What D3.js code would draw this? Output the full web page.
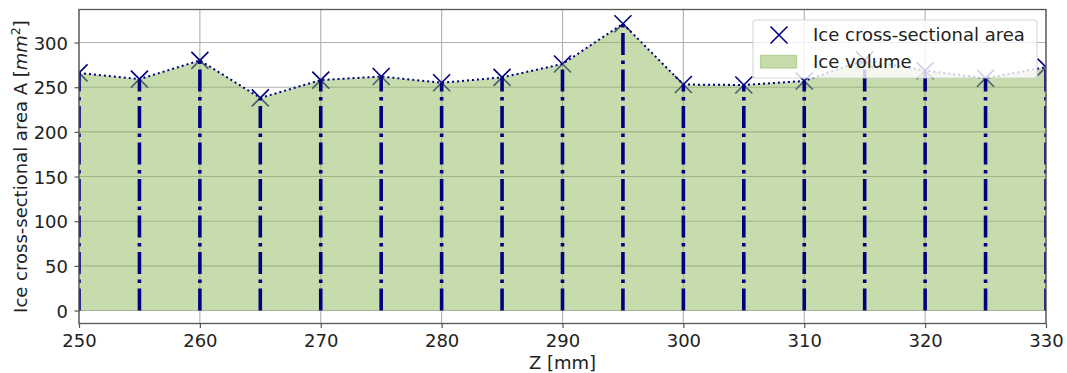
<!DOCTYPE html>
<html>
<head>
<meta charset="utf-8">
<script src="https://cdn.jsdelivr.net/npm/d3@7"></script>
<style>
  body { margin: 0; background: #fff; }
  svg { display: block; }
  text { font-family: "DejaVu Sans", sans-serif; }
</style>
</head>
<body>
<svg id="chart" width="1067" height="373"></svg>
<script>
// Axial positions along the sample (mm)
const positions = [250, 255, 260, 265, 270, 275, 280, 285, 290, 295, 300, 305, 310, 315, 320, 325, 330];
// Ice cross-sectional area at each position (mm^2)
const iceArea = [266, 259, 280, 238, 258, 262, 255, 261, 276, 321, 253, 252.5, 257, 280.5, 268.5, 260, 272.5];
const xTicks = [250, 260, 270, 280, 290, 300, 310, 320, 330];
const yTicks = [0, 50, 100, 150, 200, 250, 300];

const svg = d3.select("#chart");
const plot = { left: 79, right: 1046, top: 9.5, bottom: 323.5 };
const fontSize = 18;
const navy = "#000080";

const x = d3.scaleLinear().domain([250, 330]).range([plot.left, plot.right]);
const y = d3.scaleLinear().domain([-14.5, 337]).range([plot.bottom, plot.top]);

const pts = positions.map((p, i) => ({ z: p, a: iceArea[i] }));

svg.append("defs").append("clipPath").attr("id", "plot-clip")
  .append("rect")
  .attr("x", plot.left).attr("y", plot.top)
  .attr("width", plot.right - plot.left).attr("height", plot.bottom - plot.top);

// Grid
const grid = svg.append("g").attr("stroke", "#b0b0b0").attr("stroke-width", 1.1);
grid.selectAll("line.gx").data(xTicks).join("line")
  .attr("x1", d => x(d)).attr("x2", d => x(d))
  .attr("y1", plot.top).attr("y2", plot.bottom);
grid.selectAll("line.gy").data(yTicks).join("line")
  .attr("x1", plot.left).attr("x2", plot.right)
  .attr("y1", d => y(d)).attr("y2", d => y(d));

const body = svg.append("g").attr("clip-path", "url(#plot-clip)");

// X markers for each measured section
const markerSize = 8.5;
function drawX(g, cx, cy, s) {
  g.append("path")
    .attr("d", `M${cx - s},${cy - s}L${cx + s},${cy + s}M${cx - s},${cy + s}L${cx + s},${cy - s}`)
    .attr("stroke", navy).attr("stroke-width", 1.6).attr("fill", "none");
}
const markers = body.append("g");
pts.forEach(d => drawX(markers, x(d.z), y(d.a), markerSize));

// Ice volume: area under the cross-section profile
const area = d3.area().x(d => x(d.z)).y0(y(0)).y1(d => y(d.a));
body.append("path").datum(pts)
  .attr("d", area)
  .attr("fill", "rgb(141,185,89)").attr("fill-opacity", 0.5);

// Dotted profile connecting the points
const line = d3.line().x(d => x(d.z)).y(d => y(d.a));
body.append("path").datum(pts)
  .attr("d", line)
  .attr("fill", "none").attr("stroke", navy)
  .attr("stroke-width", 2).attr("stroke-dasharray", "2,3");

// Dash-dot stems from zero up to each value
body.selectAll("line.stem").data(pts).join("line")
  .attr("class", "stem")
  .attr("x1", d => x(d.z)).attr("x2", d => x(d.z))
  .attr("y1", y(0)).attr("y2", d => y(d.a))
  .attr("stroke", navy).attr("stroke-width", 3.6)
  .attr("stroke-dasharray", "22,5.5,3.5,5.5");

// Axes
const spineColor = "#555";
const xAxis = d3.axisBottom(x).tickValues(xTicks).tickSize(4.5).tickPadding(6.5).tickFormat(d3.format("d"));
const yAxis = d3.axisLeft(y).tickValues(yTicks).tickSize(4.5).tickPadding(6.5).tickFormat(d3.format("d"));

const gx = svg.append("g").attr("transform", `translate(0,${plot.bottom})`).call(xAxis);
const gy = svg.append("g").attr("transform", `translate(${plot.left},0)`).call(yAxis);
[gx, gy].forEach(g => {
  g.select(".domain").remove();
  g.selectAll(".tick line").attr("stroke", spineColor).attr("stroke-width", 1.2);
  g.selectAll(".tick text").attr("font-size", fontSize).attr("fill", "#222")
    .attr("font-family", "DejaVu Sans, sans-serif");
});
gy.selectAll(".tick text").attr("dy", "0.36em");

// Spines
svg.append("rect")
  .attr("x", plot.left).attr("y", plot.top)
  .attr("width", plot.right - plot.left).attr("height", plot.bottom - plot.top)
  .attr("fill", "none").attr("stroke", spineColor).attr("stroke-width", 1.3);

// Axis labels
svg.append("text")
  .attr("x", (plot.left + plot.right) / 2).attr("y", 369.3)
  .attr("text-anchor", "middle").attr("font-size", fontSize).attr("fill", "#222")
  .text("Z [mm]");

const yl = svg.append("text")
  .attr("transform", `translate(27,${(plot.top + plot.bottom) / 2}) rotate(-90)`)
  .attr("text-anchor", "middle").attr("font-size", fontSize).attr("fill", "#222");
yl.append("tspan").text("Ice cross-sectional area A [");
yl.append("tspan").attr("font-style", "italic").text("mm");
yl.append("tspan").attr("font-size", fontSize * 0.7).attr("dy", -7).text("2");
yl.append("tspan").attr("dy", 7).text("]");

// Legend
const lg = svg.append("g");
lg.append("rect")
  .attr("x", 753).attr("y", 20).attr("width", 284).attr("height", 58).attr("rx", 3)
  .attr("fill", "#fff").attr("fill-opacity", 0.8)
  .attr("stroke", "#cccccc").attr("stroke-opacity", 0.8).attr("stroke-width", 1.1);
drawX(lg, 779, 35, markerSize);
lg.append("rect")
  .attr("x", 760.5).attr("y", 55.5).attr("width", 36).attr("height", 12.5)
  .attr("fill", "rgb(141,185,89)").attr("fill-opacity", 0.5)
  .attr("stroke", "rgb(141,185,89)").attr("stroke-opacity", 0.5).attr("stroke-width", 1.3);
lg.append("text").attr("x", 813).attr("y", 35).attr("dy", "0.36em")
  .attr("font-size", fontSize).attr("fill", "#222").text("Ice cross-sectional area");
lg.append("text").attr("x", 813).attr("y", 62).attr("dy", "0.36em")
  .attr("font-size", fontSize).attr("fill", "#222").text("Ice volume");
</script>
</body>
</html>
